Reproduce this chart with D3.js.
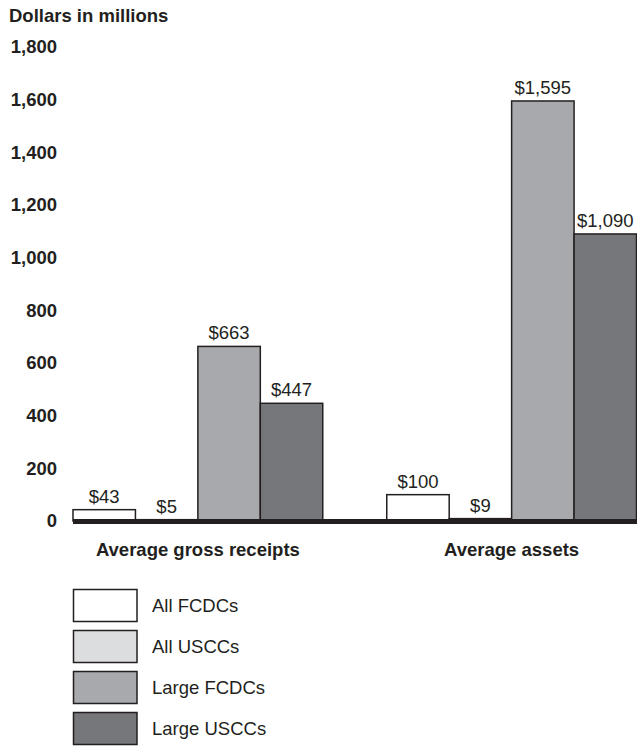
<!DOCTYPE html>
<html>
<head>
<meta charset="utf-8">
<script src="https://cdn.jsdelivr.net/npm/d3@7"></script>
<style>
  html, body { margin: 0; padding: 0; background: #fff; }
  svg { display: block; font-family: "Liberation Sans", Arial, Helvetica, sans-serif; }
</style>
</head>
<body>
<svg id="chart" width="637" height="747"></svg>
<script>
// Average gross receipts and assets, dollars in millions
const groups = ["Average gross receipts", "Average assets"];
const seriesNames = ["All FCDCs", "All USCCs", "Large FCDCs", "Large USCCs"];
const grossReceipts = [43, 5, 663, 447];
const assets = [100, 9, 1595, 1090];
const yTicks = [0, 200, 400, 600, 800, 1000, 1200, 1400, 1600, 1800];
const seriesColors = ["#ffffff", "#dcddde", "#a7a9ac", "#76777a"];

const ink = "#231f20";
const fontSize = 18.5;
const data = groups.map((g, i) => ({
  group: g,
  values: (i === 0 ? grossReceipts : assets).map((v, j) => ({ series: seriesNames[j], value: v }))
}));

const svg = d3.select("#chart");

const y = d3.scaleLinear().domain([0, 1800]).range([521, 47]);
const x0 = d3.scaleBand().domain(groups).range([73, 636.5]).paddingInner(0.204).paddingOuter(0);
const x1 = d3.scaleBand().domain(seriesNames).range([0, x0.bandwidth()]).padding(0);
const color = d3.scaleOrdinal().domain(seriesNames).range(seriesColors);

// Unit caption
svg.append("text")
  .attr("x", 9).attr("y", 22)
  .attr("font-size", fontSize).attr("font-weight", "bold").attr("fill", ink)
  .text("Dollars in millions");

// Value axis: labels only
const yAxis = svg.append("g")
  .attr("transform", "translate(73,0)")
  .call(d3.axisLeft(y).tickValues(yTicks).tickSize(0).tickPadding(16).tickFormat(d3.format(",")));
yAxis.select(".domain").remove();
yAxis.selectAll("text")
  .attr("font-size", fontSize).attr("font-weight", "bold").attr("fill", ink)
  .attr("font-family", "Liberation Sans, Arial, sans-serif");

// Bars
const grp = svg.selectAll("g.group").data(data).join("g")
  .attr("class", "group")
  .attr("transform", d => `translate(${x0(d.group)},0)`);

grp.selectAll("rect").data(d => d.values).join("rect")
  .attr("x", d => x1(d.series))
  .attr("y", d => y(d.value))
  .attr("width", x1.bandwidth())
  .attr("height", d => y(0) - y(d.value))
  .attr("fill", d => color(d.series))
  .attr("stroke", ink).attr("stroke-width", 1.5);

grp.selectAll("text.value").data(d => d.values).join("text")
  .attr("class", "value")
  .attr("x", d => x1(d.series) + x1.bandwidth() / 2)
  .attr("y", d => y(d.value) - 7)
  .attr("text-anchor", "middle")
  .attr("font-size", fontSize).attr("fill", ink)
  .text(d => "$" + d3.format(",")(d.value));

// Baseline
svg.append("line")
  .attr("x1", 73).attr("x2", 637)
  .attr("y1", y(0) + 0.5).attr("y2", y(0) + 0.5)
  .attr("stroke", ink).attr("stroke-width", 5);

// Category labels
svg.selectAll("text.cat").data(groups).join("text")
  .attr("class", "cat")
  .attr("x", d => x0(d) + x0.bandwidth() / 2)
  .attr("y", 556)
  .attr("text-anchor", "middle")
  .attr("font-size", fontSize).attr("font-weight", "bold").attr("fill", ink)
  .text(d => d);

// Legend
const legend = svg.selectAll("g.legend").data(seriesNames).join("g")
  .attr("class", "legend")
  .attr("transform", (d, i) => `translate(73.5,${589.5 + i * 41})`);
legend.append("rect")
  .attr("width", 63.5).attr("height", 32)
  .attr("fill", d => color(d))
  .attr("stroke", ink).attr("stroke-width", 1.5);
legend.append("text")
  .attr("x", 78.5).attr("y", 16).attr("dy", "0.35em")
  .attr("font-size", fontSize).attr("fill", ink)
  .text(d => d);
</script>
</body>
</html>
